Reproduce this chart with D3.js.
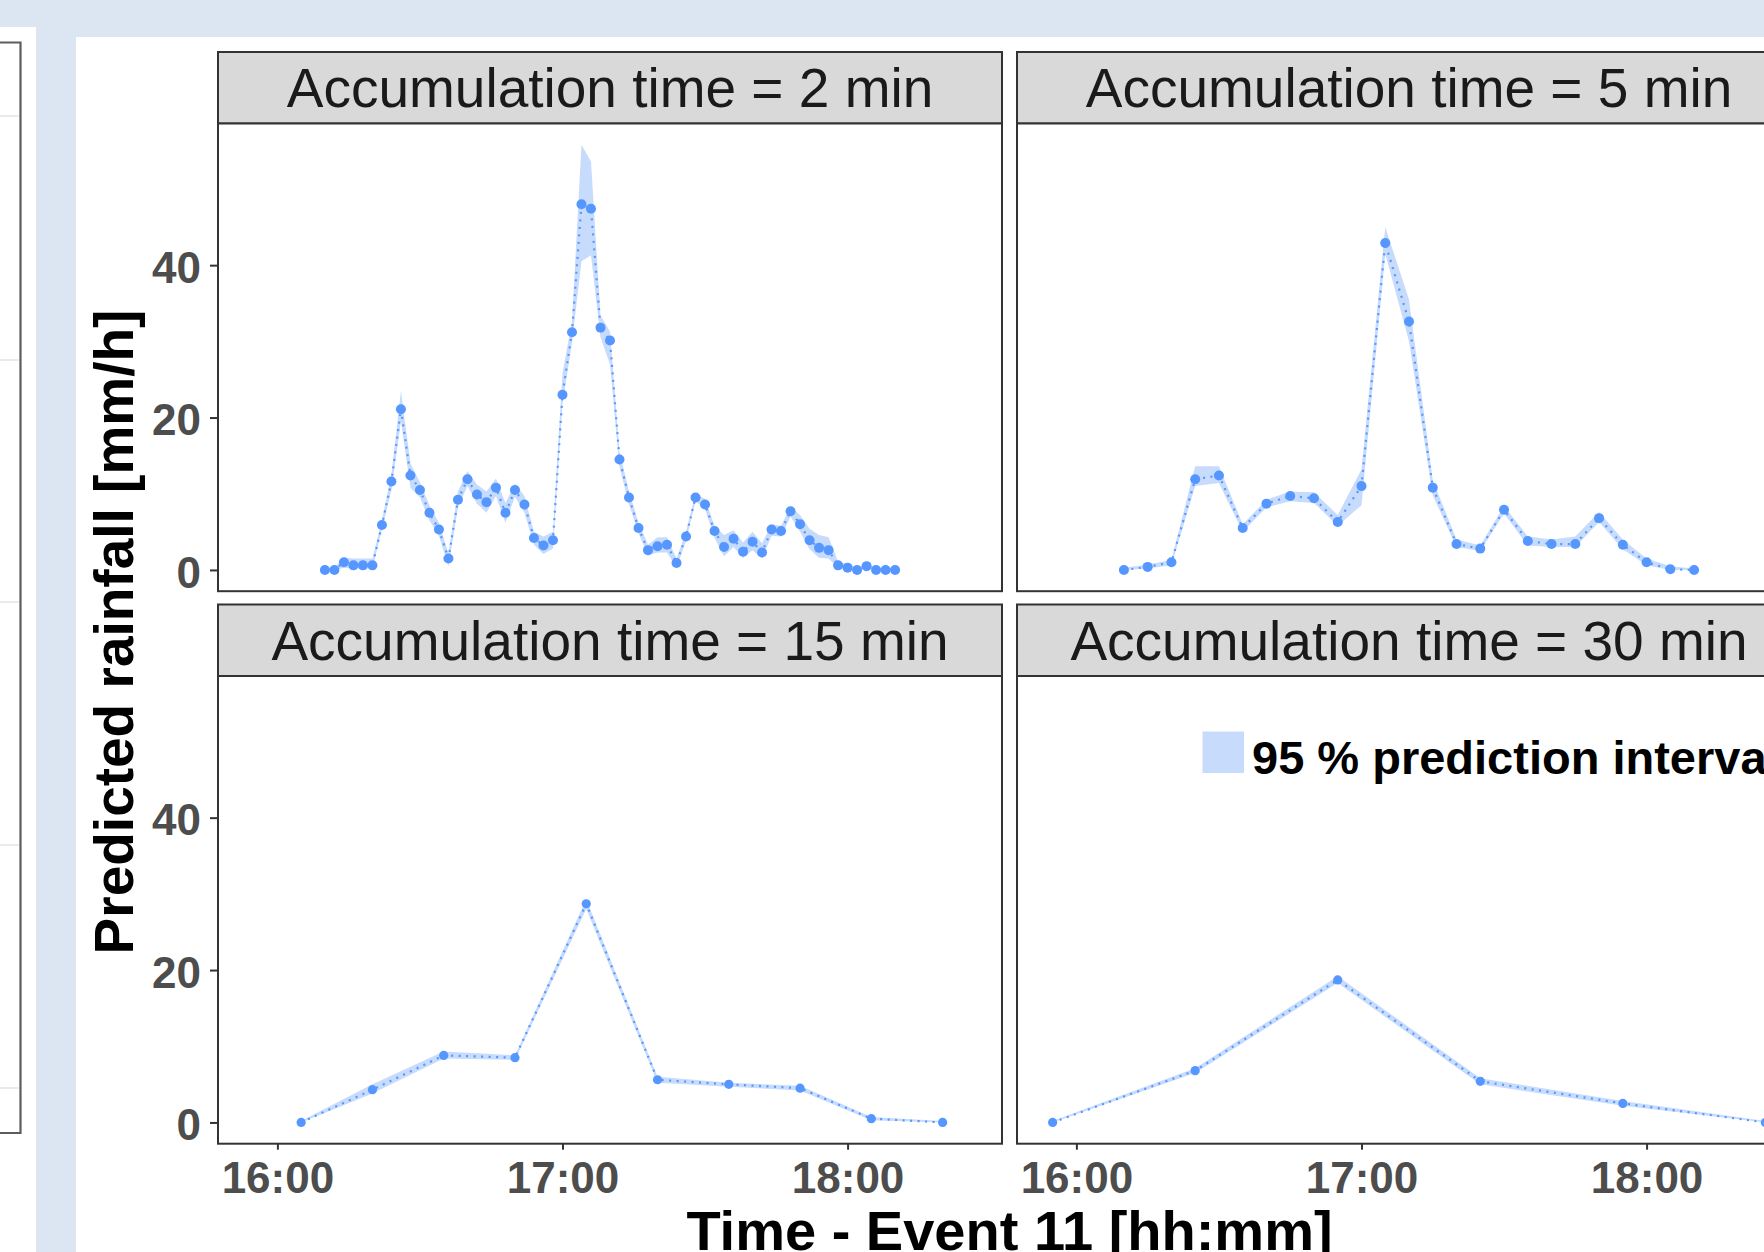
<!DOCTYPE html>
<html>
<head>
<meta charset="utf-8">
<script src="https://cdn.jsdelivr.net/npm/d3@7"></script>
<style>
  html, body { margin: 0; padding: 0; overflow: hidden; background: #dce6f2; }
  text { font-family: "Liberation Sans", Arial, sans-serif; }
</style>
</head>
<body>
<div id="chart"></div>
<script>
// facet labels and sampling of each accumulation time
const accumLabels = ['2', '5', '15', '30'];
const startTimes = ['16:10', '16:10', '16:05', '15:55'];
const stepMinutes = [2, 5, 15, 30];
const pointRadius = [5, 5, 4.6, 4.6];

// predicted rainfall [mm/h] and 95 % prediction interval
const pred2 = [0, 0, 1.0, 0.6, 0.6, 0.6, 5.9, 11.6, 21.1, 12.4, 10.5, 7.5, 5.3, 1.5, 9.2, 11.9, 9.9, 8.9, 10.8, 7.5,
  10.5, 8.6, 4.2, 3.2, 3.9, 23.0, 31.2, 48.0, 47.4, 31.8, 30.1, 14.5, 9.5, 5.5, 2.6, 3.1, 3.3, 0.9, 4.4, 9.5,
  8.6, 5.1, 3.0, 4.1, 2.4, 3.7, 2.3, 5.3, 5.1, 7.7, 6.0, 3.9, 2.9, 2.6, 0.6, 0.3, 0, 0.5, 0, 0, 0];
const lo2 = [0, 0, 0.3, 0.2, 0.2, 0.2, 5.3, 10.5, 19.5, 10.8, 9.5, 6.5, 4.5, 0.5, 8.2, 11.0, 8.7, 7.5, 9.7, 6.2,
  9.6, 7.5, 3.3, 2.1, 2.8, 21.8, 29.8, 40.5, 41.3, 30.5, 27.0, 13.5, 8.6, 4.8, 1.9, 2.3, 2.3, 0.3, 3.8, 9.0,
  8.0, 4.2, 1.8, 3.0, 1.6, 2.6, 1.5, 4.5, 4.4, 7.0, 5.0, 2.7, 1.6, 1.5, 0.3, 0, 0, 0.2, 0, 0, 0];
const hi2 = [0.3, 0.3, 1.6, 1.5, 1.5, 1.5, 6.5, 12.6, 23.5, 14.0, 11.5, 8.5, 6.2, 2.2, 10.3, 13.0, 11.2, 10.3, 12.0, 8.8,
  11.3, 9.7, 5.0, 4.4, 5.0, 25.8, 32.6, 55.8, 53.6, 33.4, 31.3, 15.5, 10.3, 6.2, 3.3, 4.3, 4.3, 1.5, 5.0, 10.0,
  9.3, 5.8, 4.6, 5.2, 3.6, 5.0, 3.5, 6.0, 5.8, 8.3, 7.2, 5.4, 4.6, 4.3, 1.1, 0.7, 0.3, 0.8, 0.3, 0.3, 0.3];

const pred5 = [0, 0.4, 1.0, 11.9, 12.4, 5.5, 8.7, 9.7, 9.4, 6.3, 11.0, 42.9, 32.6, 10.8, 3.4, 2.8, 7.9, 3.8, 3.4, 3.4, 6.8, 3.3, 1.0, 0.1, 0];
const lo5 = [0, 0.2, 0.6, 11.0, 11.4, 5.0, 8.2, 9.0, 8.8, 5.8, 8.5, 41.5, 30.0, 9.8, 3.0, 2.5, 7.4, 3.2, 3.0, 3.0, 6.3, 2.7, 0.6, 0, 0];
const hi5 = [0.3, 0.7, 1.3, 13.6, 13.6, 6.0, 9.2, 10.3, 10.2, 7.2, 13.2, 45.0, 35.5, 11.8, 4.0, 3.2, 8.4, 4.4, 4.0, 4.4, 7.6, 4.0, 1.5, 0.5, 0.2];

const pred15 = [0, 4.3, 8.8, 8.5, 28.7, 5.6, 5.0, 4.5, 0.5, 0];
const lo15 = [0, 3.8, 8.4, 8.2, 28.0, 5.2, 4.7, 4.2, 0.3, 0];
const hi15 = [0.2, 5.0, 9.3, 8.8, 29.3, 6.0, 5.2, 4.8, 0.7, 0.2];

const pred30 = [0, 6.8, 18.7, 5.4, 2.5, 0];
const lo30 = [0, 6.5, 18.3, 5.0, 2.2, 0];
const hi30 = [0.2, 7.1, 19.2, 5.8, 2.8, 0.2];

const yTicks = [0, 20, 40];
const xTickLabels = ['16:00', '17:00', '18:00'];
const legendLabel = '95 % prediction interval';

const width = 1764;
const height = 1252;
const pointColor = '#5597ff';
const ribbonColor = '#c7dbfd';
const frameColor = '#333333';

const parseTime = d3.timeParse('%H:%M');

const predSets = [pred2, pred5, pred15, pred30];
const loSets = [lo2, lo5, lo15, lo30];
const hiSets = [hi2, hi5, hi15, hi30];

const panels = accumLabels.map((label, i) => {
  const start = parseTime(startTimes[i]);
  return {
    label: `Accumulation time = ${label} min`,
    r: pointRadius[i],
    rows: predSets[i].map((v, j) => ({
      t: d3.timeMinute.offset(start, j * stepMinutes[i]),
      pred: v,
      lo: loSets[i][j],
      hi: hiSets[i][j]
    }))
  };
});

const svg = d3.select('#chart')
  .append('svg')
  .attr('width', width)
  .attr('height', height)
  .attr('viewBox', `0 0 ${width} ${height}`);

// page background bits around the figure
svg.append('rect').attr('width', width).attr('height', height).attr('fill', '#dce6f2');
svg.append('rect').attr('x', 0).attr('y', 27).attr('width', 36).attr('height', height - 27).attr('fill', '#fff');
[116, 360, 602, 845, 1088].forEach(yy => {
  svg.append('line').attr('x1', 0).attr('x2', 19).attr('y1', yy).attr('y2', yy)
    .attr('stroke', '#e4e4e4').attr('stroke-width', 1.5);
});
svg.append('path')
  .attr('d', 'M0,42.5H20.5V1133H0')
  .attr('fill', 'none')
  .attr('stroke', '#5c5c5c')
  .attr('stroke-width', 2.2);
svg.append('rect').attr('x', 76).attr('y', 37).attr('width', width - 76).attr('height', height - 37).attr('fill', '#fff');

// facet layout
const colX = [218, 1017];
const panelW = 784;
const stripTop = [52, 604.5];
const stripH = 71.5;
const panelH = 467.7;

// shared scales (ggplot style 5% expansion)
const allRows = panels.flatMap(p => p.rows);
const tExt = d3.extent(allRows, d => d.t);
const tPad = (tExt[1] - tExt[0]) * 0.05;
const x = d3.scaleTime()
  .domain([new Date(+tExt[0] - tPad), new Date(+tExt[1] + tPad)])
  .range([0, panelW]);

const yMax = d3.max(allRows, d => d.hi);
const yMin = d3.min(allRows, d => d.lo);
const yPad = (yMax - yMin) * 0.05;
const y = d3.scaleLinear()
  .domain([yMin - yPad, yMax + yPad])
  .range([panelH, 0]);

const area = d3.area()
  .x(d => x(d.t))
  .y0(d => y(d.lo))
  .y1(d => y(d.hi));

const line = d3.line()
  .x(d => x(d.t))
  .y(d => y(d.pred));

panels.forEach((p, i) => {
  const col = i % 2;
  const row = Math.floor(i / 2);
  const px = colX[col];
  const sy = stripTop[row];
  const py = sy + stripH;

  // strip
  svg.append('rect')
    .attr('x', px).attr('y', sy)
    .attr('width', panelW).attr('height', stripH)
    .attr('fill', '#d9d9d9')
    .attr('stroke', frameColor).attr('stroke-width', 2);

  svg.append('text')
    .attr('x', px + panelW / 2)
    .attr('y', sy + stripH / 2 + 0.716 * 55 / 2)
    .attr('text-anchor', 'middle')
    .attr('font-size', '55px')
    .attr('fill', '#1a1a1a')
    .text(p.label);

  const g = svg.append('g').attr('transform', `translate(${px},${py})`);

  g.append('rect')
    .attr('width', panelW).attr('height', panelH)
    .attr('fill', '#fff');

  g.append('path')
    .datum(p.rows)
    .attr('d', area)
    .attr('fill', ribbonColor);

  g.append('path')
    .datum(p.rows)
    .attr('d', line)
    .attr('fill', 'none')
    .attr('stroke', pointColor)
    .attr('stroke-width', 2.2)
    .attr('stroke-dasharray', '2,5.5');

  g.selectAll('circle')
    .data(p.rows)
    .join('circle')
    .attr('cx', d => x(d.t))
    .attr('cy', d => y(d.pred))
    .attr('r', p.r)
    .attr('fill', pointColor);

  // panel frame
  g.append('rect')
    .attr('width', panelW).attr('height', panelH)
    .attr('fill', 'none')
    .attr('stroke', frameColor).attr('stroke-width', 2);

  if (col === 0) {
    const ya = g.append('g')
      .call(d3.axisLeft(y).tickValues(yTicks).tickSize(8).tickPadding(9));
    ya.select('.domain').remove();
    ya.selectAll('line').attr('stroke', frameColor).attr('stroke-width', 2);
    ya.selectAll('text')
      .attr('dy', '0.39em')
      .attr('font-size', '44px')
      .attr('font-weight', 'bold')
      .attr('font-family', '"Liberation Sans", Arial, sans-serif')
      .attr('fill', '#4d4d4d');
  }

  if (row === 1) {
    const hours = xTickLabels.map(parseTime);
    const xa = g.append('g')
      .attr('transform', `translate(0,${panelH})`)
      .call(d3.axisBottom(x).tickValues(hours).tickFormat(d3.timeFormat('%H:%M')).tickSize(6).tickPadding(12));
    xa.select('.domain').remove();
    xa.selectAll('line').attr('stroke', frameColor).attr('stroke-width', 2);
    xa.selectAll('text')
      .attr('font-size', '44px')
      .attr('font-weight', 'bold')
      .attr('font-family', '"Liberation Sans", Arial, sans-serif')
      .attr('fill', '#4d4d4d');
  }

  // legend sits inside the last facet
  if (i === 3) {
    g.append('rect')
      .attr('x', 185.5).attr('y', 55.5)
      .attr('width', 41.5).attr('height', 41.5)
      .attr('fill', ribbonColor);
    g.append('text')
      .attr('x', 235)
      .attr('y', 98)
      .attr('font-size', '47px')
      .attr('font-weight', 'bold')
      .attr('fill', '#000')
      .text(legendLabel);
  }
});

// axis titles
svg.append('text')
  .attr('x', (colX[0] + colX[1] + panelW) / 2)
  .attr('y', 1250)
  .attr('text-anchor', 'middle')
  .attr('font-size', '56px')
  .attr('font-weight', 'bold')
  .attr('fill', '#000')
  .text('Time - Event 11 [hh:mm]');

svg.append('text')
  .attr('transform', 'translate(133,632) rotate(-90)')
  .attr('text-anchor', 'middle')
  .attr('font-size', '55px')
  .attr('font-weight', 'bold')
  .attr('fill', '#000')
  .text('Predicted rainfall [mm/h]');
</script>
</body>
</html>
